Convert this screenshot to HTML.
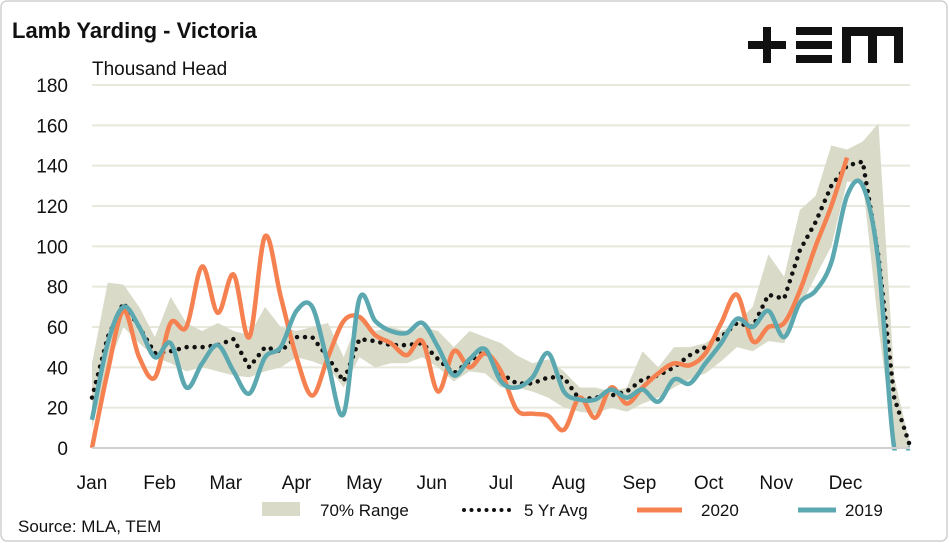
<!DOCTYPE html>
<html><head><meta charset="utf-8"><style>
body{margin:0;background:#fff;font-family:"Liberation Sans",sans-serif;}
svg{display:block}
text{font-family:"Liberation Sans",sans-serif;fill:#111}
</style></head><body>
<svg id="chart" width="949" height="543" viewBox="0 0 949 543">
<defs><clipPath id="plotclip"><rect x="80" y="60" width="850" height="390.5"/></clipPath></defs>
<rect x="1" y="1" width="946" height="540" rx="6" fill="#fff" stroke="#d0d0d0" stroke-width="1.5"/>
<text x="12" y="38" font-size="22" font-weight="bold">Lamb Yarding - Victoria</text>
<text x="92" y="75" font-size="19">Thousand Head</text>
<g fill="#111">
<rect x="748" y="41" width="38" height="8"/><rect x="763" y="27" width="8" height="36"/>
<rect x="796" y="27" width="36" height="8"/><rect x="796" y="41" width="36" height="8"/><rect x="796" y="55" width="36" height="8"/>
<path d="M842 27h61v36h-9v-27h-17v27h-9v-27h-17v27h-9z"/>
</g>
<g id="grid"></g><g id="band"></g><g id="lines" clip-path="url(#plotclip)"></g><g id="axes"></g>
<g>
<rect x="262" y="502" width="38" height="14" fill="#d9dbc8"/>
<text x="320" y="516" font-size="17">70% Range</text>
<line x1="464" y1="510" x2="510" y2="510" stroke="#111" stroke-width="4" stroke-linecap="round" stroke-dasharray="0 7.5"/>
<text x="524" y="516" font-size="17">5 Yr Avg</text>
<line x1="637" y1="510" x2="682" y2="510" stroke="#f58151" stroke-width="5"/>
<text x="701" y="516" font-size="17">2020</text>
<line x1="798" y1="510" x2="836" y2="510" stroke="#5ba8b0" stroke-width="5"/>
<text x="845" y="516" font-size="17">2019</text>
</g>
<text x="18" y="532" font-size="17">Source: MLA, TEM</text>
</svg>
<script>
const months=["Jan","Feb","Mar","Apr","May","Jun","Jul","Aug","Sep","Oct","Nov","Dec"];
const monthWeeks=[0,4.3,8.5,13,17.3,21.6,26,30.3,34.8,39.2,43.5,47.9];
const yTicks=[0,20,40,60,80,100,120,140,160,180];
const s2020=[0,38,68,45,35,62,60,90,67,86,55,105,75,45,26,45,63,65,56,52,46,53,28,48,40,47,38,19,17,16,9,25,15,30,22,30,37,42,41,47,62,76,53,60,62,78,100,120,144];
const s2019=[14,52,70,60,45,52,30,42,51,38,27,45,50,68,70,42,17,74,63,58,57,62,50,36,44,49,33,30,35,47,28,24,24,29,25,29,23,34,32,42,52,64,60,68,55,72,78,92,125,130,92,0,0];
const avg5=[25,55,72,60,47,48,50,50,51,54,40,50,48,55,55,45,33,54,53,51,51,52,44,37,43,48,37,32,32,35,35,24,25,26,28,34,36,40,46,50,55,62,60,76,74,98,112,130,140,142,95,25,1];
const rangeHi=[42,82,81,70,55,75,62,58,62,58,56,70,60,58,60,62,45,65,58,60,58,60,58,50,58,55,52,46,42,44,38,30,30,28,30,48,40,50,50,52,58,62,70,96,85,118,125,150,148,152,161,35,2];
const rangeLo=[10,40,60,52,45,42,38,40,38,36,35,38,40,45,43,40,30,45,40,42,42,45,40,33,38,37,30,30,28,25,20,18,17,20,18,22,25,30,34,37,43,50,48,53,52,70,85,100,132,132,60,0,0];
const X=i=>92+i*15.73, Y=v=>448-v*(363/180);
const NS="http://www.w3.org/2000/svg";
function mk(p,tag,at){const e=document.createElementNS(NS,tag);for(const k in at)e.setAttribute(k,at[k]);p.appendChild(e);return e;}
function smooth(pts){let d=`M${pts[0][0]},${pts[0][1]}`;for(let i=0;i<pts.length-1;i++){const p0=pts[i-1]||pts[i],p1=pts[i],p2=pts[i+1],p3=pts[i+2]||p2;
d+=` C${p1[0]+(p2[0]-p0[0])/6},${p1[1]+(p2[1]-p0[1])/6} ${p2[0]-(p3[0]-p1[0])/6},${p2[1]-(p3[1]-p1[1])/6} ${p2[0]},${p2[1]}`;}return d;}
const grid=document.getElementById('grid'),axes=document.getElementById('axes'),band=document.getElementById('band'),lines=document.getElementById('lines');
yTicks.forEach(t=>{
 if(t>0){const l=mk(grid,'line',{x1:92,x2:910,y1:Y(t),y2:Y(t),stroke:'#e8e8dc','stroke-width':2});
 
 }
 const tx=mk(axes,'text',{x:68,y:Y(t)+7,'font-size':19,'text-anchor':'end'});tx.textContent=t;
 
 
});
const base=mk(axes,'line',{x1:92,x2:910,y1:448,y2:448,stroke:'#d0d0d0','stroke-width':2});


months.forEach((m,i)=>{const tx=mk(axes,'text',{x:X(monthWeeks[i]),y:489,'font-size':19,'text-anchor':'middle'});tx.textContent=m;
 
 });
let bp=rangeHi.map((v,i)=>`${X(i)},${Y(v)}`).concat(rangeLo.map((v,i)=>`${X(i)},${Y(v)}`).reverse());
const poly=mk(band,'polygon',{points:bp.join(' '),fill:'#d9dbc8'});


const avgLine=mk(lines,'polyline',{points:avg5.map((v,i)=>`${X(i)},${Y(v)}`).join(' '),fill:'none',stroke:'#111','stroke-width':4.5,'stroke-linecap':'round','stroke-dasharray':'0 8'});


const l20=mk(lines,'path',{d:smooth(s2020.map((v,i)=>[X(i),Y(v)])),fill:'none',stroke:'#f58151','stroke-width':4.5,'stroke-linejoin':'round'});


const l19=mk(lines,'path',{d:smooth(s2019.map((v,i)=>[X(i),Y(Math.max(v,0))])),fill:'none',stroke:'#5ba8b0','stroke-width':4.5,'stroke-linejoin':'round'});


</script>
</body></html>
